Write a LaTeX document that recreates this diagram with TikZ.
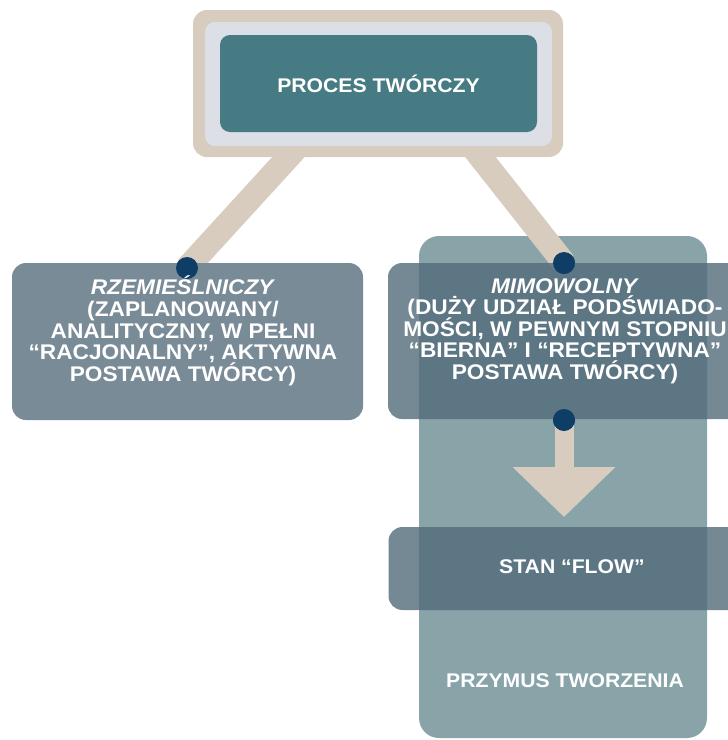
\documentclass[tikz,border=0pt]{standalone}
\usepackage{fontspec}
\setmainfont[FakeStretch=1.07]{Liberation Sans}
\usetikzlibrary{arrows.meta}

\definecolor{frametan}{HTML}{D7CCBE}
\definecolor{matgray}{HTML}{DCDFE6}
\definecolor{titleteal}{HTML}{477B83}
\definecolor{slatebox}{HTML}{7A8B98}
\definecolor{streambox}{HTML}{88A4A9}
\definecolor{overlay}{HTML}{526B7A}
\definecolor{joint}{HTML}{0E3E66}

\newcommand\tightlines{\lineskiplimit=-20pt\relax}

\begin{document}
\begin{tikzpicture}[x=1pt,y=-1pt,
  panel/.style={rounded corners=14pt, inner sep=0pt, outer sep=0pt},
  caption/.style={text=white, align=center, inner sep=0pt,
    font=\bfseries\fontsize{19.8}{21}\selectfont},
  bodytext/.style={caption,
    font=\bfseries\fontsize{21.2}{21.6}\selectfont\tightlines},
  link/.style={draw=frametan, line width=24pt},
  jointdot/.style={circle, fill=joint, minimum size=22pt, inner sep=0pt}]

\useasboundingbox (0,0) rectangle (728,740);
\clip (0,0) rectangle (728,740);

% tall background column on the right
\node[panel, rounded corners=20pt, fill=streambox,
  minimum width=288pt, minimum height=502pt] (stream) at (563,487) {};

% connector anchors hidden behind the title frame
\coordinate (hookL) at (304,140);
\coordinate (hookR) at (467,140);

% joints on the lower boxes
\node[jointdot] (dotL) at (187,268) {};
\node[jointdot] (dotR) at (564,263) {};
\node[jointdot] (dotD) at (564,420) {};

\draw[link] (hookL) -- (dotL.center);
\draw[link] (hookR) -- (dotR.center);

% title frame
\node[panel, fill=frametan, minimum width=370pt, minimum height=147pt] (frame) at (378,83.5) {};
\node[panel, rounded corners=10pt, fill=matgray, minimum width=347pt, minimum height=124pt] (mat) at (378.5,84) {};
\node[panel, rounded corners=10pt, fill=titleteal, minimum width=317pt, minimum height=97pt] (title) at (378.5,83.5) {};
\node[caption] (titletext) at (378.5,84) {PROCES TWÓRCZY};

% downward arrow from the second branch
\coordinate (arrowend) at (564,517);
\draw[draw=frametan, line width=19pt,
  -{Triangle[length=50pt, width=100pt, fill=frametan]}] (dotD.center) -- (arrowend);

% branch boxes
\node[panel, fill=slatebox, minimum width=351pt, minimum height=157pt] (craft) at (187.5,341.5) {};
\node[panel, fill=overlay, fill opacity=0.8, minimum width=360pt, minimum height=156pt] (spont) at (568,341) {};
\node[panel, fill=overlay, fill opacity=0.8, minimum width=360pt, minimum height=83pt] (flow) at (568.5,568.5) {};

% joints drawn above the boxes
\node[jointdot] at (dotL) {};
\node[jointdot] at (dotR) {};
\node[jointdot] at (dotD) {};

% texts
\node[bodytext] (crafttext) at (183,331) {\textit{RZEMIEŚLNICZY}\\(ZAPLANOWANY/\\ANALITYCZNY, W PEŁNI\\“RACJONALNY”, AKTYWNA\\POSTAWA TWÓRCY)};
\node[bodytext] (sponttext) at (565,331) {\textit{MIMOWOLNY}\\(DUŻY UDZIAŁ PODŚWIADO-\\MOŚCI, W PEWNYM STOPNIU\\“BIERNA” I “RECEPTYWNA”\\POSTAWA TWÓRCY)};
\node[caption] (flowtext) at (572,567) {STAN “FLOW”};
\node[caption] (streamtext) at (565,681) {PRZYMUS TWORZENIA};
\end{tikzpicture}
\end{document}
